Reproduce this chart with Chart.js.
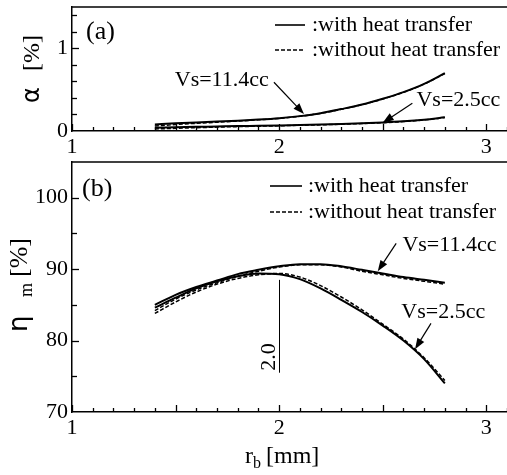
<!DOCTYPE html>
<html>
<head>
<meta charset="utf-8">
<script src="https://cdn.jsdelivr.net/npm/chart.js@4.4.1/dist/chart.umd.min.js"></script>
<style>
  html, body { margin: 0; padding: 0; background: #fff; overflow: hidden; }
  #chartA { position: absolute; left: 0; top: 0; }
  #chartB { position: absolute; left: 0; top: 155px; }
</style>
</head>
<body>
<canvas id="chartA" width="507" height="162"></canvas>
<canvas id="chartB" width="507" height="320"></canvas>
<script>
// r_b [mm]
const rb = [1.4, 1.5, 1.6, 1.7, 1.8, 1.9, 2.0, 2.1, 2.2, 2.3, 2.4, 2.5, 2.6, 2.7, 2.8];

// (a) alpha [%]
const alphaWith114    = [0.08, 0.093, 0.104, 0.114, 0.125, 0.138, 0.155, 0.18, 0.215, 0.265, 0.32, 0.39, 0.47, 0.57, 0.70];
const alphaWithout114 = [0.06, 0.078, 0.093, 0.106, 0.12, 0.135, 0.152, 0.178, 0.213, 0.262, 0.318, 0.387, 0.467, 0.567, 0.695];
const alphaWith25     = [0.04, 0.045, 0.05, 0.055, 0.06, 0.063, 0.067, 0.072, 0.078, 0.085, 0.093, 0.103, 0.117, 0.137, 0.165];
const alphaWithout25  = [0.025, 0.032, 0.04, 0.047, 0.053, 0.058, 0.063, 0.069, 0.075, 0.082, 0.09, 0.10, 0.114, 0.134, 0.162];

// (b) eta_m [%]
const etaWith114    = [85.0, 86.4, 87.5, 88.4, 89.3, 89.9, 90.4, 90.7, 90.7, 90.4, 89.9, 89.4, 88.9, 88.5, 88.1];
const etaWithout114 = [84.2, 85.8, 87.1, 88.1, 89.0, 89.7, 90.3, 90.6, 90.6, 90.3, 89.7, 89.2, 88.7, 88.3, 87.9];
const etaWith25     = [84.6, 86.0, 87.3, 88.3, 89.0, 89.4, 89.3, 88.6, 87.3, 85.7, 84.0, 82.1, 80.0, 77.4, 74.0];
const etaWithout25  = [83.8, 85.4, 86.8, 87.9, 88.7, 89.2, 89.4, 88.9, 87.7, 86.1, 84.3, 82.3, 80.2, 77.6, 74.4];

const legendLabels = [':with heat transfer', ':without heat transfer'];

const SERIF = '"Liberation Serif", "Times New Roman", serif';
const SANS = '"DejaVu Sans", sans-serif';

function seriesPoints(ys) {
  return rb.map((x, i) => ({ x: x, y: ys[i] }));
}

function lineDataset(label, ys, dashed) {
  return {
    label: label,
    data: seriesPoints(ys),
    borderColor: '#000',
    borderWidth: dashed ? 1.5 : 2,
    borderDash: dashed ? [4, 2] : [],
    pointRadius: 0,
    cubicInterpolationMode: 'monotone',
    fill: false
  };
}

function drawArrow(ctx, x0, y0, x1, y1) {
  const ang = Math.atan2(y1 - y0, x1 - x0);
  const len = 11, hw = 4;
  ctx.beginPath();
  ctx.moveTo(x0, y0);
  ctx.lineTo(x1 - Math.cos(ang) * len * 0.8, y1 - Math.sin(ang) * len * 0.8);
  ctx.stroke();
  ctx.beginPath();
  ctx.moveTo(x1, y1);
  ctx.lineTo(x1 - Math.cos(ang) * len - Math.sin(ang) * hw, y1 - Math.sin(ang) * len + Math.cos(ang) * hw);
  ctx.lineTo(x1 - Math.cos(ang) * len + Math.sin(ang) * hw, y1 - Math.sin(ang) * len - Math.cos(ang) * hw);
  ctx.closePath();
  ctx.fill();
}

// draws frame top, inward ticks, notes, legend and axis titles
function figurePlugin(fig) {
  return {
    id: 'figure',
    afterDraw(chart) {
      const ctx = chart.ctx;
      const a = chart.chartArea;
      const xs = chart.scales.x, ys = chart.scales.y;
      ctx.save();
      ctx.strokeStyle = '#000';
      ctx.fillStyle = '#000';

      ctx.lineWidth = 1.5;
      ctx.beginPath();
      ctx.moveTo(a.left, a.top);
      ctx.lineTo(a.right + 2, a.top);
      ctx.stroke();

      // inward ticks
      ctx.lineWidth = 1.3;
      for (let i = 0; i <= 21; i++) {
        const px = Math.round(xs.getPixelForValue(1 + i / 10)) + 0.5;
        const l = i % 5 === 0 ? 7 : 4;
        ctx.beginPath();
        ctx.moveTo(px, a.bottom);
        ctx.lineTo(px, a.bottom - l);
        ctx.stroke();
      }
      for (let i = 1; i <= fig.yTickCount; i++) {
        const py = Math.round(ys.getPixelForValue(fig.yMin + i * fig.yTickStep)) + 0.5;
        const l = i % fig.yMajorEvery === 0 ? 7 : 5;
        ctx.beginPath();
        ctx.moveTo(a.left, py);
        ctx.lineTo(a.left + l, py);
        ctx.stroke();
      }

      // notes and arrows
      ctx.font = '22px ' + SERIF;
      ctx.textBaseline = 'middle';
      ctx.textAlign = 'left';
      fig.notes.forEach(n => {
        ctx.fillText(n.text, xs.getPixelForValue(n.x), ys.getPixelForValue(n.y));
      });
      ctx.lineWidth = 1.2;
      fig.arrows.forEach(ar => {
        drawArrow(ctx,
          xs.getPixelForValue(ar.from[0]), ys.getPixelForValue(ar.from[1]),
          xs.getPixelForValue(ar.to[0]), ys.getPixelForValue(ar.to[1]));
      });
      if (fig.marker) {
        const m = fig.marker;
        const px = Math.round(xs.getPixelForValue(m.x)) + 0.5;
        ctx.lineWidth = 1;
        ctx.beginPath();
        ctx.moveTo(px, ys.getPixelForValue(m.y0));
        ctx.lineTo(px, ys.getPixelForValue(m.y1));
        ctx.stroke();
        ctx.save();
        ctx.translate(xs.getPixelForValue(m.textX), ys.getPixelForValue(m.textY));
        ctx.rotate(-Math.PI / 2);
        ctx.textAlign = 'center';
        ctx.fillText(m.text, 0, 0);
        ctx.restore();
      }

      // legend
      const lg = fig.legend;
      lg.rows.forEach((ry, i) => {
        ctx.lineWidth = i === 0 ? 1.6 : 1.4;
        ctx.setLineDash(i === 0 ? [] : [4, 2]);
        ctx.beginPath();
        ctx.moveTo(lg.x0, ry);
        ctx.lineTo(lg.x1, ry);
        ctx.stroke();
        ctx.setLineDash([]);
        ctx.fillText(legendLabels[i], lg.textX, ry);
      });

      // panel label
      ctx.font = '26px ' + SERIF;
      ctx.fillText(fig.panel.text, fig.panel.x, fig.panel.y);

      fig.drawTitles(ctx);
      ctx.restore();
    }
  };
}

function makeOptions(fig) {
  const tickFont = { family: SERIF, size: 22 };
  return {
    responsive: false,
    animation: false,
    layout: { padding: { left: 0, right: 0, top: 7, bottom: 0 } },
    plugins: { legend: { display: false }, tooltip: { enabled: false } },
    scales: {
      x: {
        type: 'linear',
        min: 1, max: 3.1,
        ticks: { stepSize: 1, includeBounds: false, autoSkip: false, maxRotation: 0, color: '#000', font: tickFont, padding: 3 },
        grid: { drawOnChartArea: false, drawTicks: false },
        border: { display: true, color: '#000', width: 1.5 },
        afterFit: s => { s.height = fig.xAxisHeight; s.paddingLeft = 0; s.paddingRight = 0; }
      },
      y: {
        type: 'linear',
        min: fig.yMin, max: fig.yMax,
        ticks: { stepSize: fig.yLabelStep, includeBounds: false, autoSkip: false, color: '#000', font: tickFont, padding: 4 },
        grid: { drawOnChartArea: false, drawTicks: false },
        border: { display: true, color: '#000', width: 1.5 },
        afterFit: s => { s.width = 72; s.paddingTop = 0; s.paddingBottom = 0; }
      }
    }
  };
}

const figA = {
  yMin: 0, yMax: 1.5, yLabelStep: 1, yTickStep: 0.2, yTickCount: 7, yMajorEvery: 5,
  xAxisHeight: 31,
  notes: [
    { text: 'Vs=11.4cc', x: 1.496, y: 0.614 },
    { text: 'Vs=2.5cc', x: 2.663, y: 0.37 }
  ],
  arrows: [
    { from: [1.975, 0.59], to: [2.12, 0.205] },
    { from: [2.643, 0.335], to: [2.5, 0.1] }
  ],
  panel: { text: '(a)', x: 86, y: 32 },
  legend: { x0: 275, x1: 305, textX: 312, rows: [25, 50] },
  drawTitles(ctx) {
    ctx.save();
    ctx.translate(39, 103);
    ctx.rotate(-Math.PI / 2);
    ctx.textBaseline = 'alphabetic';
    ctx.textAlign = 'left';
    ctx.font = '24px ' + SANS;
    ctx.fillText('α', 0, 0);
    ctx.font = '24px ' + SERIF;
    ctx.fillText('[%]', 32, 0);
    ctx.restore();
  }
};

const figB = {
  yMin: 70, yMax: 105, yLabelStep: 10, yTickStep: 5, yTickCount: 6, yMajorEvery: 2,
  xAxisHeight: 63,
  notes: [
    { text: 'Vs=11.4cc', x: 2.595, y: 93.4 },
    { text: 'Vs=2.5cc', x: 2.59, y: 84.0 }
  ],
  arrows: [
    { from: [2.565, 93.6], to: [2.476, 89.7] },
    { from: [2.733, 82.4], to: [2.656, 78.8] }
  ],
  marker: { x: 2.0, y0: 88.5, y1: 75.5, text: '2.0', textX: 1.952, textY: 77.7 },
  panel: { text: '(b)', x: 82, y: 34 },
  legend: { x0: 270, x1: 302, textX: 308, rows: [31, 57] },
  drawTitles(ctx) {
    ctx.save();
    ctx.translate(27, 177);
    ctx.rotate(-Math.PI / 2);
    ctx.textBaseline = 'alphabetic';
    ctx.textAlign = 'left';
    ctx.font = '26px ' + SANS;
    ctx.fillText('η', 0, 0);
    ctx.font = '18px ' + SERIF;
    ctx.fillText('m', 35, 5);
    ctx.font = '26px ' + SERIF;
    ctx.fillText('[%]', 55, 0);
    ctx.restore();

    ctx.save();
    ctx.textBaseline = 'alphabetic';
    ctx.textAlign = 'left';
    ctx.font = '24px ' + SERIF;
    ctx.fillText('r', 245, 308);
    ctx.font = '16px ' + SERIF;
    ctx.fillText('b', 253, 313);
    ctx.font = '24px ' + SERIF;
    ctx.fillText('[mm]', 266, 308);
    ctx.restore();
  }
};

new Chart(document.getElementById('chartA'), {
  type: 'line',
  data: {
    datasets: [
      lineDataset('Vs=11.4cc without', alphaWithout114, true),
      lineDataset('Vs=2.5cc without', alphaWithout25, true),
      lineDataset('Vs=11.4cc with', alphaWith114, false),
      lineDataset('Vs=2.5cc with', alphaWith25, false)
    ]
  },
  options: makeOptions(figA),
  plugins: [figurePlugin(figA)]
});

new Chart(document.getElementById('chartB'), {
  type: 'line',
  data: {
    datasets: [
      lineDataset('Vs=11.4cc without', etaWithout114, true),
      lineDataset('Vs=2.5cc without', etaWithout25, true),
      lineDataset('Vs=11.4cc with', etaWith114, false),
      lineDataset('Vs=2.5cc with', etaWith25, false)
    ]
  },
  options: makeOptions(figB),
  plugins: [figurePlugin(figB)]
});
</script>
</body>
</html>
